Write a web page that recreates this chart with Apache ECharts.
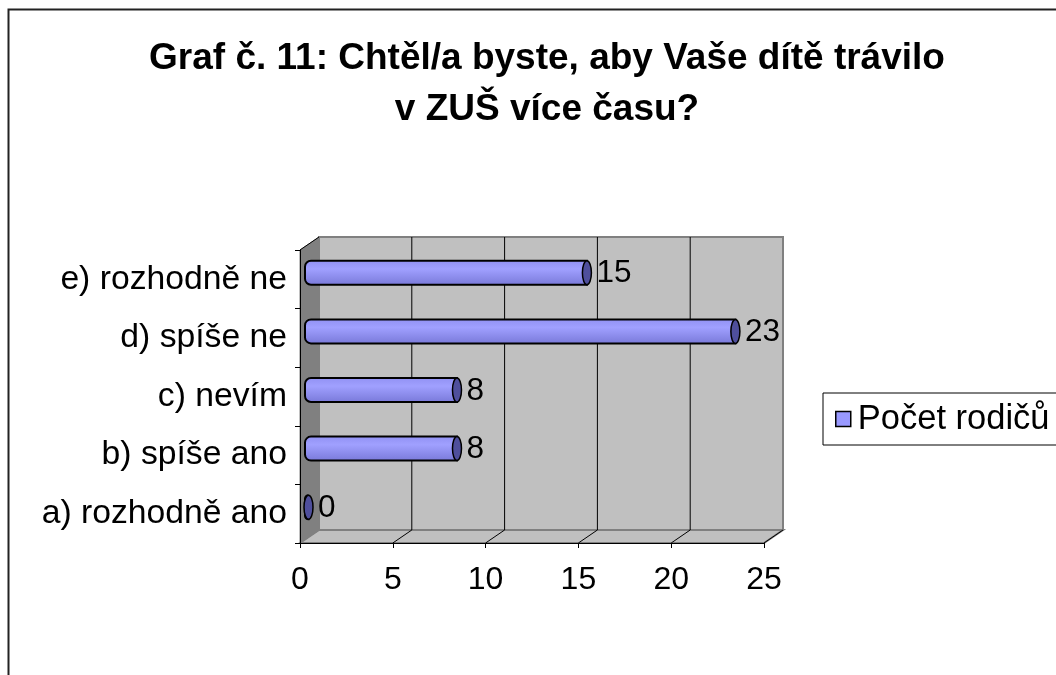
<!DOCTYPE html>
<html>
<head>
<meta charset="utf-8">
<script src="https://cdn.jsdelivr.net/npm/echarts@6/dist/echarts.min.js"></script>
<style>html,body{margin:0;padding:0;background:#fff}#c{width:1056px;height:675px}</style>
</head>
<body>
<div id="c"></div>
<script>
var titleLines = ['Graf č. 11: Chtěl/a byste, aby Vaše dítě trávilo', 'v ZUŠ více času?'];
var categories = ['a) rozhodně ano', 'b) spíše ano', 'c) nevím', 'd) spíše ne', 'e) rozhodně ne'];
var counts = [0, 8, 8, 23, 15];
var seriesName = 'Počet rodičů';
var xTicks = [0, 5, 10, 15, 20, 25];

var FONT = "'Liberation Sans', Arial, sans-serif";
var DX = 19, DY = -13;

var chart = echarts.init(document.getElementById('c'), null, {renderer: 'canvas'});

function wallsRender(params, api) {
  var cs = params.coordSys;
  var x = cs.x, y = cs.y, w = cs.width, h = cs.height;
  var ch = [];
  ch.push({type: 'polygon', shape: {points: [[x + DX, y + DY], [x + w + DX, y + DY], [x + w + DX, y + h + DY], [x + DX, y + h + DY]]},
    style: {fill: '#c0c0c0', stroke: '#808080', lineWidth: 2}});
  ch.push({type: 'polygon', shape: {points: [[x, y + h], [x + DX, y + h + DY], [x + w + DX, y + h + DY], [x + w, y + h]]},
    style: {fill: '#c0c0c0', stroke: '#808080', lineWidth: 2}});
  ch.push({type: 'polygon', shape: {points: [[x, y], [x + DX, y + DY], [x + DX, y + h + DY], [x, y + h]]},
    style: {fill: '#808080', stroke: '#808080', lineWidth: 1}});
  ch.push({type: 'line', shape: {x1: x, y1: y, x2: x + DX, y2: y + DY}, style: {stroke: '#000', lineWidth: 1}});
  for (var i = 0; i < xTicks.length; i++) {
    var v = xTicks[i];
    var fx = api.coord([v, 0])[0];
    if (v > xTicks[0] && v < xTicks[xTicks.length - 1]) {
      ch.push({type: 'line', shape: {x1: fx + DX, y1: y + DY, x2: fx + DX, y2: y + h + DY}, style: {stroke: '#000', lineWidth: 1}});
    }
    if (v > xTicks[0]) {
      ch.push({type: 'line', shape: {x1: fx, y1: y + h, x2: fx + DX, y2: y + h + DY}, style: {stroke: '#000', lineWidth: 1}});
    }
  }
  return {type: 'group', children: ch};
}

function barRender(params, api) {
  var idx = api.value(0);
  var v = api.value(1);
  var p = api.coord([v, idx]);
  var p0 = api.coord([0, idx]);
  var band = api.size([0, 1])[1];
  var bh = band * 0.41;
  var cy = p[1] + DY / 2;
  var mx = p[0] + DX / 2 - 1;
  var rx = 4.5;
  var ch = [];
  var left = p0[0] + 5;
  if (mx - left > 2) {
    ch.push({type: 'rect', shape: {x: left, y: cy - bh / 2, width: mx - left, height: bh, r: [6, 0, 0, 6]},
      style: {fill: new echarts.graphic.LinearGradient(0, 0, 0, 1, [
        {offset: 0, color: '#9090f2'}, {offset: 0.35, color: '#a0a0ff'}, {offset: 1, color: '#7878d8'}]),
        stroke: '#000', lineWidth: 2}});
  }
  ch.push({type: 'ellipse', shape: {cx: mx, cy: cy, rx: rx, ry: bh / 2},
    style: {fill: '#4f4f9c', stroke: '#000', lineWidth: 1.5}});
  ch.push({type: 'text', style: {text: String(v), x: mx + rx + 5, y: cy + 1, fill: '#000',
    fontSize: 31.5, fontFamily: FONT, align: 'left', verticalAlign: 'middle'}});
  return {type: 'group', children: ch};
}

var barData = counts.map(function (c, i) { return [i, c]; });

chart.setOption({
  backgroundColor: '#fff',
  animation: false,
  title: {
    text: titleLines.join('\n'),
    left: 542, top: 28, textAlign: 'center',
    textStyle: {fontFamily: FONT, fontSize: 37, fontWeight: 'bold', color: '#000', lineHeight: 51}
  },
  legend: {
    data: [{name: seriesName, icon: 'rect'}],
    left: 823, top: 393,
    orient: 'vertical',
    padding: [7, 12, 7, 12],
    borderColor: '#000', borderWidth: 1,
    itemWidth: 15, itemHeight: 15,
    itemStyle: {color: '#9999ff', borderColor: '#000', borderWidth: 1.5},
    textStyle: {fontFamily: FONT, fontSize: 34.5, color: '#000', lineHeight: 38, padding: [0, 0, 0, 2]}
  },
  grid: {left: 300, top: 250, width: 464, height: 293, containLabel: false},
  xAxis: {
    type: 'value', min: xTicks[0], max: xTicks[xTicks.length - 1], interval: xTicks[1] - xTicks[0],
    z: 5,
    axisLine: {show: true, lineStyle: {color: '#000', width: 1}},
    axisTick: {show: true, length: 5, lineStyle: {color: '#000'}},
    splitLine: {show: false},
    axisLabel: {fontFamily: FONT, fontSize: 32, color: '#000', margin: 21}
  },
  yAxis: {
    type: 'category', data: categories,
    z: 5,
    axisLine: {show: true, lineStyle: {color: '#000', width: 1}},
    axisTick: {show: true, length: 5, lineStyle: {color: '#000'}},
    splitLine: {show: false},
    axisLabel: {fontFamily: FONT, fontSize: 33.7, color: '#000', margin: 13}
  },
  graphic: [{type: 'rect', shape: {x: 8.5, y: 9.5, width: 1100, height: 700},
    style: {fill: 'none', stroke: '#222', lineWidth: 2}, z: 100, silent: true}],
  series: [
    {type: 'custom', name: 'walls', silent: true, z: 1, clip: false, renderItem: wallsRender, data: [[0, 0]]},
    {type: 'custom', name: seriesName, z: 3, clip: false, renderItem: barRender, data: barData,
      itemStyle: {color: '#9999ff'}, encode: {x: 1, y: 0}}
  ]
});
</script>
</body>
</html>
